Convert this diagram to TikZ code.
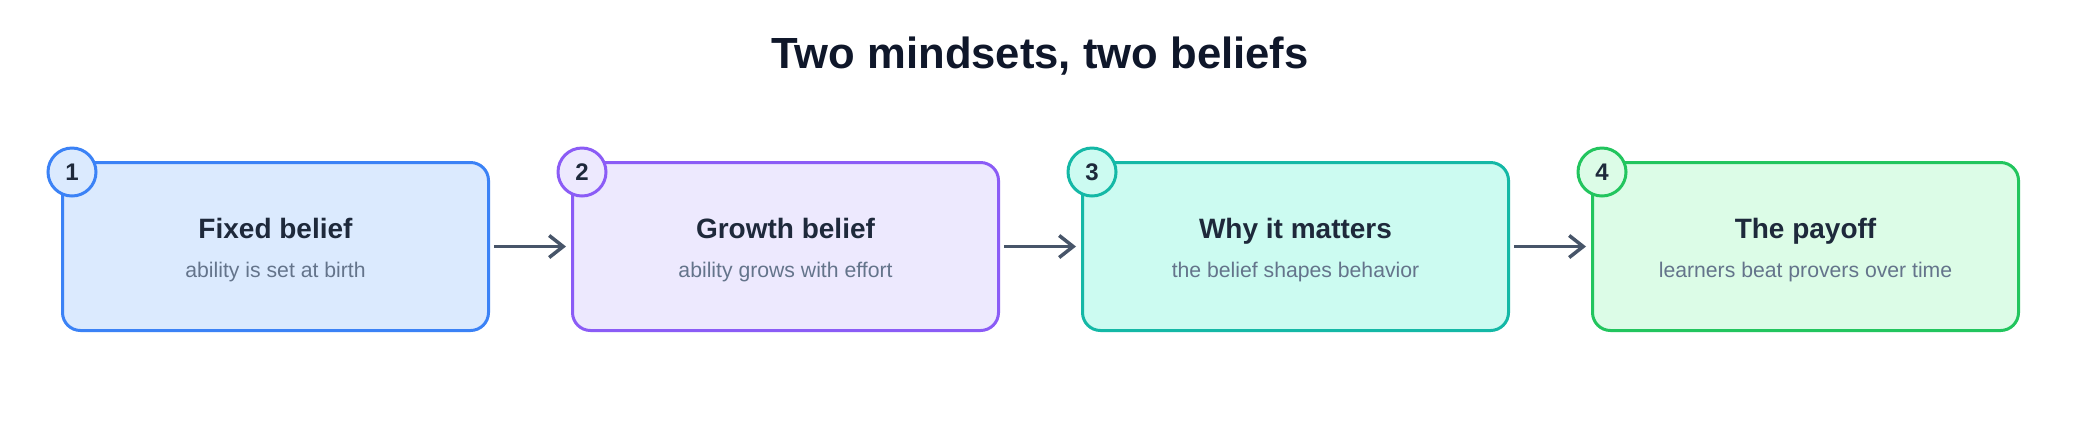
\documentclass[tikz,border=0pt]{standalone}
\usepackage{fontspec}
\setmainfont{Liberation Sans}
\usetikzlibrary{arrows.meta}
\definecolor{inkdark}{HTML}{0F172A}
\definecolor{inkhead}{HTML}{1E293B}
\definecolor{inksub}{HTML}{64748B}
\definecolor{arrowgray}{HTML}{475569}
\definecolor{blueline}{HTML}{3B82F6}
\definecolor{bluefill}{HTML}{DBEAFE}
\definecolor{purpleline}{HTML}{8B5CF6}
\definecolor{purplefill}{HTML}{EDE9FE}
\definecolor{tealline}{HTML}{14B8A6}
\definecolor{tealfill}{HTML}{CCFBF1}
\definecolor{greenline}{HTML}{22C55E}
\definecolor{greenfill}{HTML}{DCFCE7}
\tikzset{cardp/.style={draw=#1line,fill=#1fill,line width=1.5pt,rounded corners=9pt,minimum width=213pt,minimum height=84pt,inner sep=0pt}}
\tikzset{badgep/.style={circle,draw=#1line,fill=#1fill,line width=1.5pt,minimum size=24pt,inner sep=0pt,text=inkhead,font=\bfseries\fontsize{12}{14}\selectfont}}
\tikzset{headp/.style={anchor=base,text=inkhead,font=\bfseries\fontsize{14}{16}\selectfont}}
\tikzset{subp/.style={anchor=base,text=inksub,font=\fontsize{10.6}{12}\selectfont}}
\tikzset{flowp/.style={draw=arrowgray,line width=1.75pt,-{Straight Barb[length=7pt,width=11pt]},shorten <=2pt,shorten >=2.5pt}}

\begin{document}
\begin{tikzpicture}[x=0.5pt,y=-0.5pt]
      \useasboundingbox[fill=white] (0,0) rectangle (2080,420);

      \node[anchor=base,text=inkdark,font=\bfseries\fontsize{21.8}{26}\selectfont] (title) at (1040,68) {Two mindsets, two beliefs};

      \node[cardp=blue] (c1) at (275.5,246.5) {};
      \node[cardp=purple] (c2) at (785.5,246.5) {};
      \node[cardp=teal] (c3) at (1295.5,246.5) {};
      \node[cardp=green] (c4) at (1805.5,246.5) {};

      \draw[flowp] (c1.east) -- (c2.west);
      \draw[flowp] (c2.east) -- (c3.west);
      \draw[flowp] (c3.east) -- (c4.west);

      \node[badgep=blue] (n1) at (72,172) {1};
      \node[badgep=purple] (n2) at (582,172) {2};
      \node[badgep=teal] (n3) at (1092,172) {3};
      \node[badgep=green] (n4) at (1602,172) {4};

      \node[headp] (h1) at (275.5,238) {Fixed belief};
      \node[subp] (s1) at (275.5,277) {ability is set at birth};
      \node[headp] (h2) at (785.5,238) {Growth belief};
      \node[subp] (s2) at (785.5,277) {ability grows with effort};
      \node[headp] (h3) at (1295.5,238) {Why it matters};
      \node[subp] (s3) at (1295.5,277) {the belief shapes behavior};
      \node[headp] (h4) at (1805.5,238) {The payoff};
      \node[subp] (s4) at (1805.5,277) {learners beat provers over time};

    \end{tikzpicture}
\end{document}
